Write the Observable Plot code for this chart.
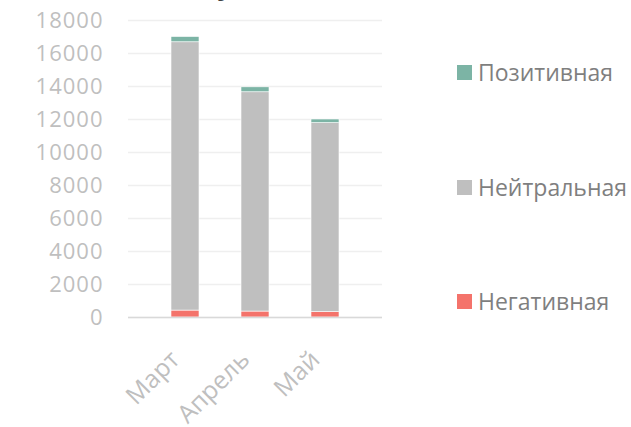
<!DOCTYPE html>
<html>
<head>
<meta charset="utf-8">
<script src="https://cdn.jsdelivr.net/npm/d3@7"></script>
<script src="https://cdn.jsdelivr.net/npm/@observablehq/plot@0.6"></script>
<style>
  html, body { margin: 0; padding: 0; background: #fff; overflow: hidden; }
  #wrap { position: relative; width: 631px; height: 427px; font-family: "Open Sans", sans-serif; }
  #title { position: absolute; left: 218px; top: -37px; font-size: 34px; color: #404040; font-family: "Open Sans", sans-serif; line-height: 1; }
  .leg { position: absolute; left: 457px; height: 15px; display: flex; align-items: center; font-size: 23px; color: #7f7f7f; white-space: nowrap; line-height: 15px; }
  .leg span.sw { display: inline-block; width: 15px; height: 15px; margin-right: 6px; flex: none; }
</style>
</head>
<body>
<div id="wrap">
  <div id="chart"></div>
  <div id="title">у</div>
  <div id="legend"></div>
</div>
<script>
const months = ["Март", "Апрель", "Май"];
const negative = [420, 360, 330];
const neutral = [16260, 13290, 11450];
const positive = [320, 300, 220];
const series = ["Негативная", "Нейтральная", "Позитивная"];
const colors = ["#f4736b", "#bfbfbf", "#7cb4a5"];
const yTicks = [0, 2000, 4000, 6000, 8000, 10000, 12000, 14000, 16000, 18000];
const legendOrder = ["Позитивная", "Нейтральная", "Негативная"];

const data = months.flatMap((m, i) => [
  {month: m, type: series[0], value: negative[i]},
  {month: m, type: series[1], value: neutral[i]},
  {month: m, type: series[2], value: positive[i]}
]);

const chart = Plot.plot({
  width: 631,
  height: 427,
  marginLeft: 128,
  marginRight: 249,
  marginTop: 20,
  marginBottom: 110,
  style: {fontFamily: "'Open Sans', sans-serif", background: "transparent"},
  x: {domain: months, padding: 0.6, label: null},
  y: {domain: [0, 18000], label: null},
  color: {domain: series, range: colors},
  marks: [
    Plot.gridY(yTicks, {stroke: "#efefef", strokeOpacity: 1, strokeWidth: 1.5}),
    Plot.barY(data, {x: "month", y: "value", fill: "type", stroke: "#ffffff", strokeWidth: 0.6}),
    Plot.ruleY([0], {stroke: "#d9d9d9", strokeWidth: 1.5}),
    Plot.axisY(yTicks, {tickSize: 0, tickPadding: 25, fontSize: 22, fill: "#bfbfbf", tickFormat: d => String(d), label: null}),
    Plot.axisX({tickSize: 0, tickPadding: 38, dx: -10, tickRotate: -45, fontSize: 25, fill: "#bfbfbf", label: null})
  ]
});
chart.querySelectorAll("[aria-label='y-axis tick label'] text").forEach(t => t.setAttribute("letter-spacing", "1"));
document.getElementById("chart").appendChild(chart);

const legTops = [65, 180, 294];
const legend = document.getElementById("legend");
legendOrder.forEach((name, i) => {
  const d = document.createElement("div");
  d.className = "leg";
  d.style.top = legTops[i] + "px";
  const sw = document.createElement("span");
  sw.className = "sw";
  sw.style.background = colors[series.indexOf(name)];
  const t = document.createElement("span");
  t.textContent = name;
  d.appendChild(sw);
  d.appendChild(t);
  legend.appendChild(d);
});
</script>
</body>
</html>
